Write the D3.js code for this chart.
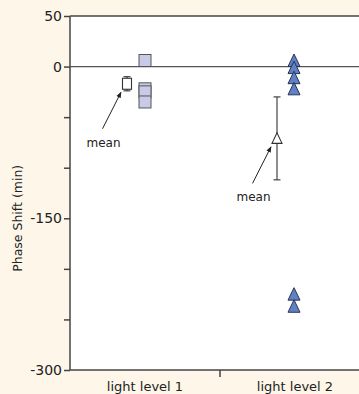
<!DOCTYPE html>
<html lang="en">
<head>
    <meta charset="UTF-8">
    <title>Phase Shift</title>
    <script src="https://d3js.org/d3.v7.min.js"></script>
    <style>
        body { margin: 0; background: #fdf6e9; }
        svg { display: block; font-family: "DejaVu Sans", Verdana, sans-serif; }
        .axis path, .axis line { stroke: #444; stroke-width: 1.5px; }
        .axis text { fill: #222; }
    </style>
</head>
<body>
    <div id="chart"></div>
    <script>
        // data
        var categories = ["light level 1", "light level 2"];
        var level1 = [6, -22, -25, -35];
        var level2 = [6, -1, -11, -22, -225, -237];
        var means = [-17, -71];
        var errs = [7, 41];
        var yTicks = [50, 0, -50, -100, -150, -200, -250, -300];
        var yLabels = [50, 0, -150, -300];

        var width = 359, height = 394;
        var margin = { top: 16, right: -11, bottom: 24, left: 70 };

        var svg = d3.select("#chart").append("svg")
            .attr("width", width)
            .attr("height", height);

        var x = d3.scaleBand()
            .domain(categories)
            .range([margin.left, width - margin.right]);

        var y = d3.scaleLinear()
            .domain([-300, 50])
            .range([height - margin.bottom, margin.top]);

        // white plot area
        svg.append("rect")
            .attr("x", margin.left)
            .attr("y", margin.top)
            .attr("width", width - margin.left)
            .attr("height", y(-300) - margin.top)
            .attr("fill", "#fff");

        // top border
        svg.append("line")
            .attr("x1", margin.left).attr("x2", width)
            .attr("y1", margin.top).attr("y2", margin.top)
            .attr("stroke", "#444").attr("stroke-width", 1.5);

        // zero line
        svg.append("line")
            .attr("x1", margin.left).attr("x2", width)
            .attr("y1", y(0)).attr("y2", y(0))
            .attr("stroke", "#555").attr("stroke-width", 1.2);

        var yAxis = svg.append("g")
            .attr("class", "axis")
            .attr("transform", `translate(${margin.left},0)`)
            .call(d3.axisLeft(y).tickValues(yTicks).tickSize(6).tickPadding(2)
                .tickFormat(d => yLabels.includes(d) ? String(d) : ""));
        yAxis.selectAll("text")
            .attr("font-size", 14)
            .attr("font-family", "DejaVu Sans, Verdana, sans-serif");
        yAxis.select(".domain").attr("d", `M0,${y(50)}V${y(-300)}`);

        // x axis with a separator tick between the groups
        var xg = svg.append("g")
            .attr("class", "axis")
            .attr("font-size", 13)
            .attr("transform", `translate(0,${y(-300)})`);
        xg.append("line")
            .attr("x1", margin.left).attr("x2", width)
            .attr("stroke", "#444").attr("stroke-width", 1.5);
        xg.append("line")
            .attr("x1", x(categories[1])).attr("x2", x(categories[1]))
            .attr("y1", 0).attr("y2", 7)
            .attr("stroke", "#444").attr("stroke-width", 1.2);
        xg.selectAll("text.cat")
            .data(categories)
            .enter().append("text")
            .attr("class", "cat")
            .attr("x", d => x(d) + x.bandwidth() / 2)
            .attr("y", 21)
            .attr("text-anchor", "middle")
            .text(d => d);

        svg.append("text")
            .attr("transform", `translate(22,${y(-150)}) rotate(-90)`)
            .attr("text-anchor", "middle")
            .attr("font-size", 12.5)
            .attr("fill", "#222")
            .text("Phase Shift (min)");

        var cx1 = x(categories[0]) + x.bandwidth() / 2;
        var cx2 = x(categories[1]) + x.bandwidth() / 2 - 1;
        var off = -18;

        // light level 1 squares
        svg.selectAll("rect.sq")
            .data(level1)
            .enter().append("rect")
            .attr("class", "sq")
            .attr("x", cx1 - 6)
            .attr("y", d => y(d) - 6)
            .attr("width", 12).attr("height", 12)
            .attr("fill", "#c9c9e8")
            .attr("stroke", "#555").attr("stroke-width", 1);

        // light level 2 triangles
        var tri = "M0,-6.5L6,6L-6,6Z";
        svg.selectAll("path.tri")
            .data(level2)
            .enter().append("path")
            .attr("class", "tri")
            .attr("transform", d => `translate(${cx2},${y(d)})`)
            .attr("d", tri)
            .attr("fill", "#5f82c6")
            .attr("stroke", "#2a3450").attr("stroke-width", 1);

        // means with error bars
        var mx = [cx1 + off, cx2 + off + 1];
        means.forEach(function (m, i) {
            var g = svg.append("g").attr("stroke", "#333").attr("stroke-width", 1.1);
            g.append("line").attr("x1", mx[i]).attr("x2", mx[i])
                .attr("y1", y(m + errs[i])).attr("y2", y(m - errs[i]));
            [m + errs[i], m - errs[i]].forEach(function (v) {
                g.append("line").attr("x1", mx[i] - 3.5).attr("x2", mx[i] + 3.5)
                    .attr("y1", y(v)).attr("y2", y(v));
            });
            if (i === 0) {
                g.append("rect").attr("x", mx[i] - 4.5).attr("y", y(m) - 5.5)
                    .attr("width", 9).attr("height", 11).attr("fill", "#fff");
            } else {
                g.append("path").attr("transform", `translate(${mx[i]},${y(m)})`)
                    .attr("d", "M0,-5.5L5,5L-5,5Z").attr("fill", "#fff");
            }
        });

        // "mean" annotations
        svg.append("defs").append("marker")
            .attr("id", "arr").attr("viewBox", "0 0 10 10")
            .attr("refX", 9).attr("refY", 5)
            .attr("markerWidth", 6).attr("markerHeight", 6)
            .attr("orient", "auto")
            .append("path").attr("d", "M0,1L10,5L0,9Z").attr("fill", "#222");

        means.forEach(function (m, i) {
            var ex = mx[i] - 6, ey = y(m) + 8.5;
            var sx = mx[i] - 24.5, sy = y(m) + 45;
            svg.append("line")
                .attr("x1", sx).attr("y1", sy).attr("x2", ex).attr("y2", ey)
                .attr("stroke", "#222").attr("stroke-width", 1)
                .attr("marker-end", "url(#arr)");
            svg.append("text")
                .attr("x", sx + 1).attr("y", sy + 18)
                .attr("text-anchor", "middle")
                .attr("font-size", 12)
                .attr("fill", "#222")
                .text("mean");
        });
    </script>
</body>
</html>
